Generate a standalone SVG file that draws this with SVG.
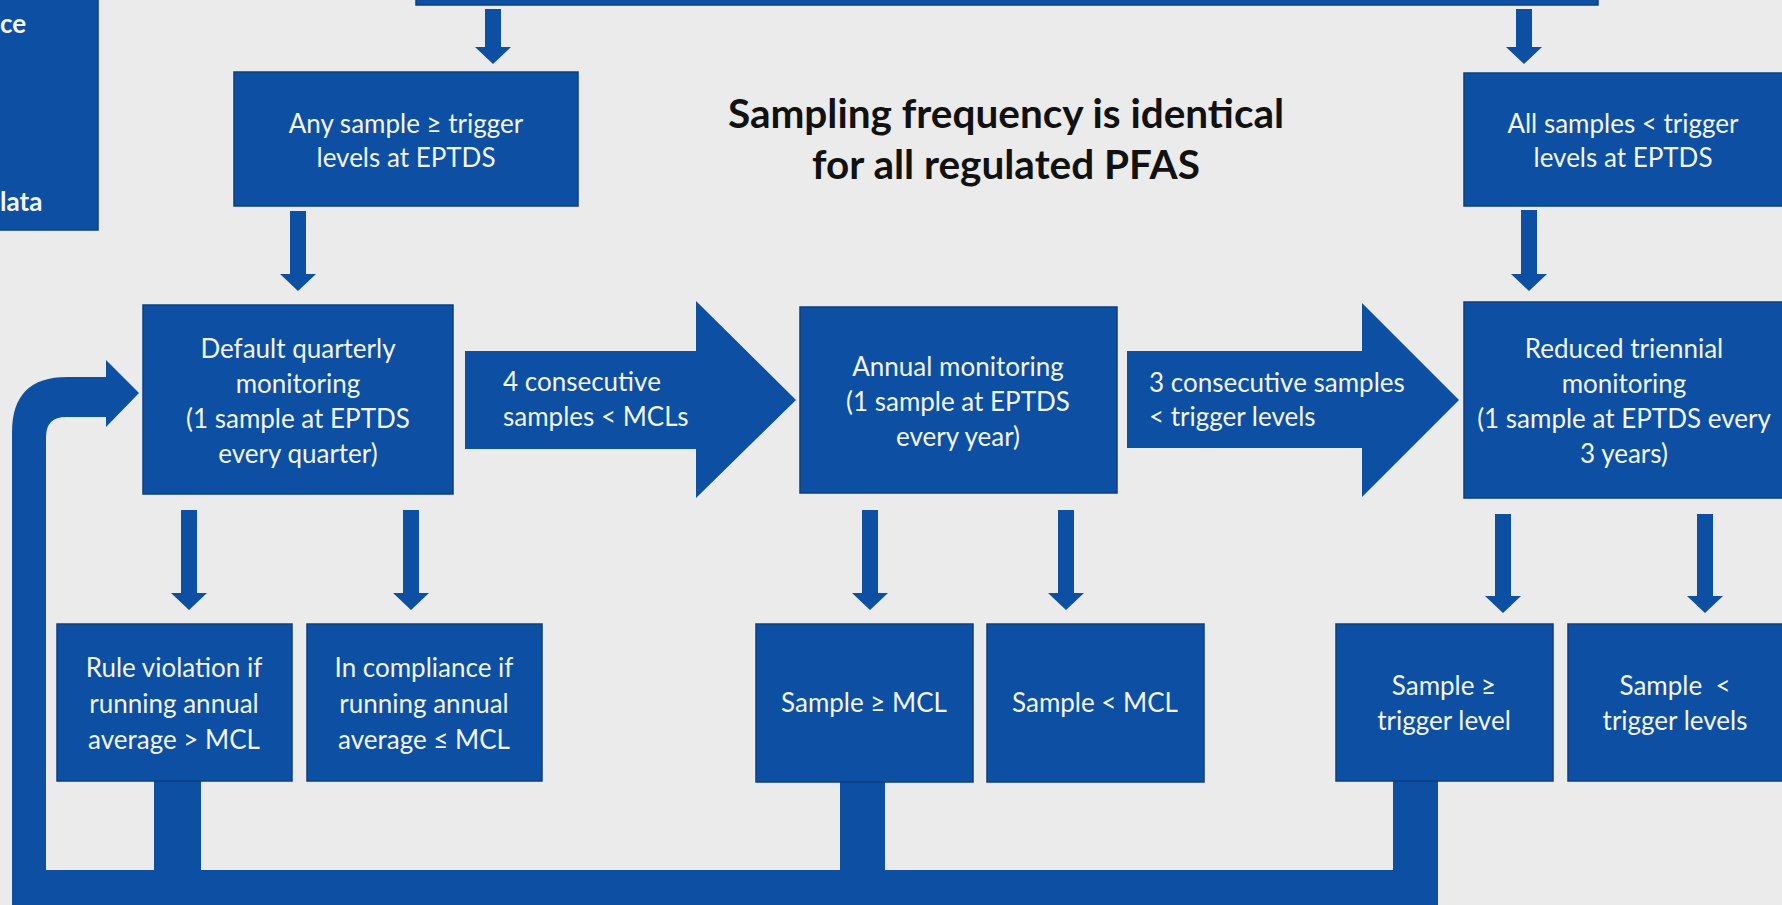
<svg xmlns="http://www.w3.org/2000/svg" width="1782" height="905" viewBox="0 0 1782 905">
<style>
.bg{fill:#ebebeb}
.box{fill:#0d4fa3;stroke:#0a3f84;stroke-width:1.5}
.conn{fill:#0d4fa3}
.t{font-family:Lato,"Liberation Sans",sans-serif;font-size:26px;fill:#f4f4f4;text-anchor:middle}
.tl{font-family:Lato,"Liberation Sans",sans-serif;font-size:26px;fill:#f4f4f4;text-anchor:start}
.tb{font-family:Lato,"Liberation Sans",sans-serif;font-size:26px;font-weight:bold;fill:#f4f4f4}
.title{font-family:Lato,"Liberation Sans",sans-serif;font-size:40.5px;font-weight:bold;fill:#111;text-anchor:middle}
</style>
<rect class="bg" x="0" y="0" width="1782" height="905"/>
<g id="connectors">
<polygon class="conn" points="485,9 501,9 501,47 511,47 493,64 475,47 485,47"/>
<polygon class="conn" points="1516,9 1532,9 1532,47 1542,47 1524,64 1506,47 1516,47"/>
<polygon class="conn" points="290,211 306,211 306,274 316,274 298,291 280,274 290,274"/>
<polygon class="conn" points="1521,210 1537,210 1537,274 1547,274 1529,291 1511,274 1521,274"/>
<polygon class="conn" points="181,510 197,510 197,593 207,593 189,610 171,593 181,593"/>
<polygon class="conn" points="403,510 419,510 419,593 429,593 411,610 393,593 403,593"/>
<polygon class="conn" points="862,510 878,510 878,593 888,593 870,610 852,593 862,593"/>
<polygon class="conn" points="1058,510 1074,510 1074,593 1084,593 1066,610 1048,593 1058,593"/>
<polygon class="conn" points="1495,514 1511,514 1511,596 1521,596 1503,613 1485,596 1495,596"/>
<polygon class="conn" points="1697,514 1713,514 1713,596 1723,596 1705,613 1687,596 1697,596"/>
<polygon class="conn" points="465,351 696,351 696,301 796,400 696,498 696,449 465,449"/>
<polygon class="conn" points="1127,351 1362,351 1362,303 1459,400 1362,497 1362,448 1127,448"/>
<path class="conn" d="M139,393 L106,427 L106,417 L66,417 Q46,417 46,437 L46,870 L154,870 L154,775 L201,775 L201,870 L840,870 L840,775 L885,775 L885,870 L1393,870 L1393,775 L1438,775 L1438,905 L12,905 L12,432 Q12,377 67,377 L106,377 L106,360 Z"/>
</g>
<g id="node-left-partial">
<rect class="box" x="-5" y="-5" width="103" height="235"/>
<text class="tb" x="0" y="33">ce</text>
<text class="tb" x="0" y="211">lata</text>
</g>
<g id="node-top">
<rect class="box" x="416" y="-10" width="1182" height="15"/>
</g>
<g id="node-title">
<text class="title" x="1006" y="128">Sampling frequency is identical</text>
<text class="title" x="1006" y="179">for all regulated PFAS</text>
</g>
<g id="node-any">
<rect class="box" x="234" y="72" width="344" height="134"/>
<text class="t" x="406" y="133">Any sample ≥ trigger</text>
<text class="t" x="406" y="167">levels at EPTDS</text>
</g>
<g id="node-all">
<rect class="box" x="1464" y="73" width="330" height="133"/>
<text class="t" x="1623" y="133">All samples &lt; trigger</text>
<text class="t" x="1623" y="167">levels at EPTDS</text>
</g>
<g id="node-default">
<rect class="box" x="143" y="305" width="310" height="189"/>
<text class="t" x="298" y="358">Default quarterly</text>
<text class="t" x="298" y="393">monitoring</text>
<text class="t" x="298" y="428">(1 sample at EPTDS</text>
<text class="t" x="298" y="463">every quarter)</text>
</g>
<g id="label-4consecutive">
<text class="tl" x="503" y="391">4 consecutive</text>
<text class="tl" x="503" y="426">samples &lt; MCLs</text>
</g>
<g id="node-annual">
<rect class="box" x="800" y="307" width="317" height="186"/>
<text class="t" x="958" y="376">Annual monitoring</text>
<text class="t" x="958" y="411">(1 sample at EPTDS</text>
<text class="t" x="958" y="446">every year)</text>
</g>
<g id="label-3consecutive">
<text class="tl" x="1149" y="392">3 consecutive samples</text>
<text class="tl" x="1149" y="426">&lt; trigger levels</text>
</g>
<g id="node-reduced">
<rect class="box" x="1464" y="302" width="330" height="196"/>
<text class="t" x="1624" y="358">Reduced triennial</text>
<text class="t" x="1624" y="393">monitoring</text>
<text class="t" x="1624" y="428">(1 sample at EPTDS every</text>
<text class="t" x="1624" y="463">3 years)</text>
</g>
<g id="node-rule">
<rect class="box" x="57" y="624" width="235" height="157"/>
<text class="t" x="174" y="677">Rule violation if</text>
<text class="t" x="174" y="713">running annual</text>
<text class="t" x="174" y="749">average &gt; MCL</text>
</g>
<g id="node-compliance">
<rect class="box" x="307" y="624" width="235" height="157"/>
<text class="t" x="424" y="677">In compliance if</text>
<text class="t" x="424" y="713">running annual</text>
<text class="t" x="424" y="749">average ≤ MCL</text>
</g>
<g id="node-sample-ge-mcl">
<rect class="box" x="756" y="624" width="217" height="158"/>
<text class="t" x="864" y="712">Sample ≥ MCL</text>
</g>
<g id="node-sample-lt-mcl">
<rect class="box" x="987" y="624" width="217" height="158"/>
<text class="t" x="1095" y="712">Sample &lt; MCL</text>
</g>
<g id="node-sample-ge-trigger">
<rect class="box" x="1336" y="624" width="217" height="157"/>
<text class="t" x="1444" y="695">Sample ≥</text>
<text class="t" x="1444" y="730">trigger level</text>
</g>
<g id="node-sample-lt-trigger">
<rect class="box" x="1568" y="624" width="226" height="157"/>
<text class="t" x="1675" y="695" xml:space="preserve">Sample  &lt;</text>
<text class="t" x="1675" y="730">trigger levels</text>
</g>
</svg>
